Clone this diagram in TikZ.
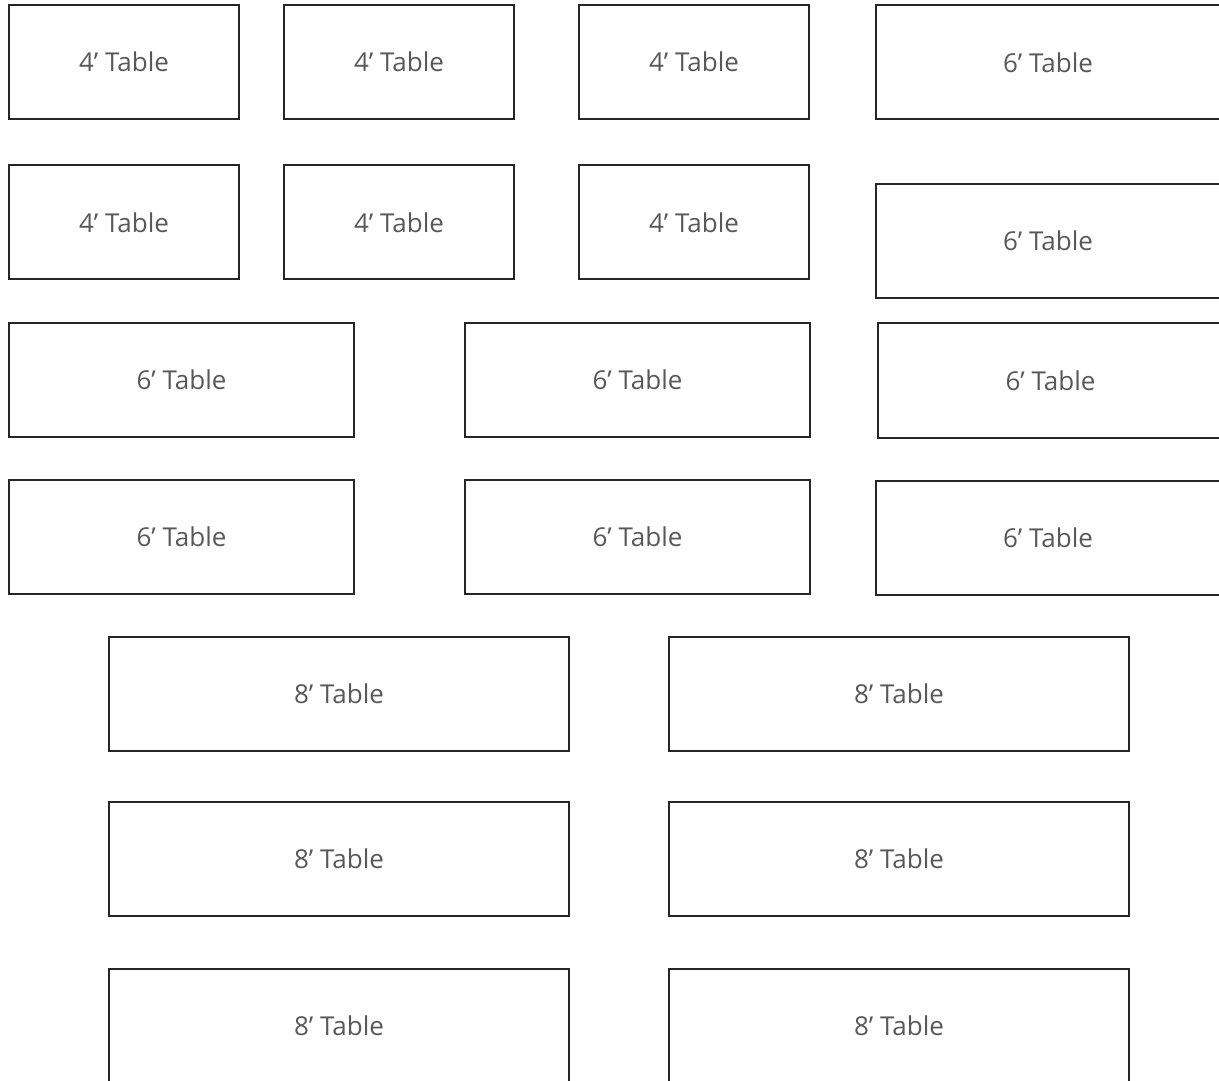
\documentclass[tikz,border=0pt]{standalone}
\usepackage{fontspec}
\setmainfont{Open Sans}
\usetikzlibrary{positioning}

\definecolor{edgegray}{HTML}{262626}
\definecolor{labelgray}{HTML}{595959}

\begin{document}
\begin{tikzpicture}[
    x=0.5pt, y=-0.5pt,
    table/.style={rectangle, draw=edgegray, line width=1pt, fill=white, text=labelgray, font=\fontsize{13}{15}\selectfont, minimum height=57pt, inner sep=0pt},
    four/.style={table, minimum width=115pt},
    six/.style={table, minimum width=172.5pt},
    eight/.style={table, minimum width=230pt}
]
\useasboundingbox (0,0) rectangle (1219,1080);
\clip (0,0) rectangle (1219,1080);

% Row 1 (4' and 6')
\node[four] (fa1) at (124,62) {4’ Table};
\node[four] (fa2) at (399,62) {4’ Table};
\node[four] (fa3) at (694,62) {4’ Table};
\node[six] (sa4) at (1048,62.5) {6’ Table};

% Row 2 (4' and 6')
\node[four] (fb1) at (124,222.5) {4’ Table};
\node[four] (fb2) at (399,222.5) {4’ Table};
\node[four] (fb3) at (694,222.5) {4’ Table};
\node[six] (sb4) at (1048,241) {6’ Table};

% Row 3 (6')
\node[six] (sc1) at (181.5,380) {6’ Table};
\node[six] (sc2) at (637.5,380) {6’ Table};
\node[six] (sc3) at (1050.5,380.5) {6’ Table};

% Row 4 (6')
\node[six] (sd1) at (181.5,537) {6’ Table};
\node[six] (sd2) at (637.5,537) {6’ Table};
\node[six] (sd3) at (1048,538) {6’ Table};

% Rows 5-7 (8')
\node[eight] (ee1) at (339,694) {8’ Table};
\node[eight] (ee2) at (899,694) {8’ Table};
\node[eight] (ef1) at (339,859) {8’ Table};
\node[eight] (ef2) at (899,859) {8’ Table};
\node[eight] (eg1) at (339,1025.5) {8’ Table};
\node[eight] (eg2) at (899,1025.5) {8’ Table};

\end{tikzpicture}
\end{document}
